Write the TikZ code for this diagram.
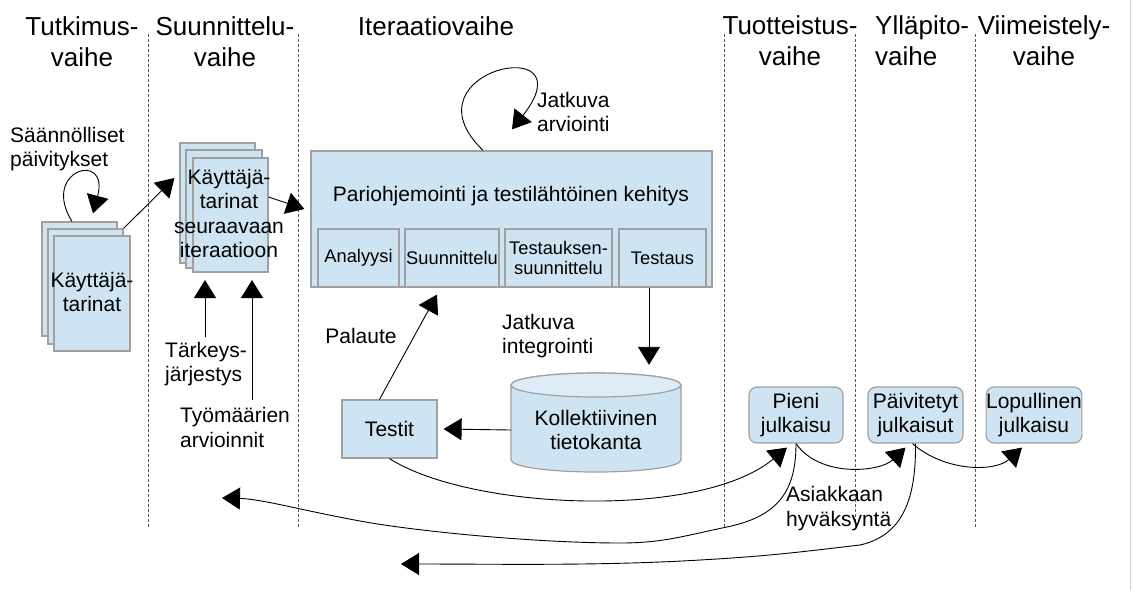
\documentclass[tikz,border=0pt]{standalone}
\usepackage{fontspec}
\setmainfont{Liberation Sans}
\usetikzlibrary{arrows.meta}
\definecolor{boxblue}{RGB}{207,228,242}
\definecolor{boxtop}{RGB}{222,236,247}
\definecolor{boxedge}{RGB}{160,160,160}
\definecolor{sepgray}{RGB}{85,85,85}

\begin{document}
\begin{tikzpicture}[x=1pt,y=-1pt,
  txt/.style={font=\fontsize{21}{24.5}\selectfont, inner sep=0pt, align=left},
  ctxt/.style={font=\fontsize{21}{24.5}\selectfont, inner sep=0pt, align=center},
  small/.style={font=\fontsize{18.3}{20.5}\selectfont, inner sep=0pt, align=center},
  phase/.style={font=\fontsize{26}{31}\selectfont, inner sep=0pt, align=center},
  sheet/.style={draw=boxedge, fill=boxblue, line width=1.2pt, inner sep=0pt},
  release/.style={sheet, rounded corners=8pt, font=\fontsize{21}{24.5}\selectfont, align=center},
  sep/.style={draw=sepgray, line width=0.9pt, dash pattern=on 3pt off 2pt},
  conn/.style={line width=0.9pt, -{Triangle[length=18pt,width=22pt]}},
]
\useasboundingbox (0,0) rectangle (1134,590);
\fill[white] (0,0) rectangle (1134,590);
\draw[gray!35, line width=1pt] (1130,0) -- (1130,590);

% phase separators
\foreach \x in {148,298,724,855,975}
  \draw[sep] (\x,34) -- (\x,527);

% phase headings
\node[phase] (ph1) at (82,41.5) {Tutkimus-\\vaihe};
\node[phase] (ph2) at (225,41.5) {Suunnittelu-\\vaihe};
\node[phase] (ph3) at (436,26.5) {Iteraatiovaihe};
\node[phase] (ph4) at (790,40.5) {Tuotteistus-\\vaihe};
\node[phase, anchor=west, align=left] (ph5) at (875,40.5) {Ylläpito-\\vaihe};
\node[phase] (ph6) at (1044,40.5) {Viimeistely-\\vaihe};

% user stories (research phase)
\node[sheet, minimum width=75pt, minimum height=114pt] (ka1) at (79.5,279) {};
\node[sheet, minimum width=75pt, minimum height=115pt] (ka2) at (85.5,286.5) {};
\node[sheet, minimum width=76pt, minimum height=115pt] (ka3) at (92,293.5) {};
\node[ctxt] (kaT) at (92,292) {Käyttäjä-\\tarinat};
\node[txt, anchor=west] (paiv1) at (10,149) {Säännölliset\\päivitykset};

% user stories for the next iteration
\node[sheet, minimum width=75pt, minimum height=120pt] (ks1) at (217.5,203) {};
\node[sheet, minimum width=76pt, minimum height=118pt] (ks2) at (224,209) {};
\node[sheet, minimum width=75pt, minimum height=114pt] (ks3) at (230.5,215) {};
\node[ctxt] (ksT) at (229,213.5) {Käyttäjä-\\tarinat\\seuraavaan\\iteraatioon};
\node[txt, anchor=west] (tark) at (165,364) {Tärkeys-\\järjestys};
\node[txt, anchor=west] (tyo) at (180,427.5) {Työmäärien\\arvioinnit};

% iteration: pair programming block
\node[sheet, minimum width=401pt, minimum height=136pt] (dev) at (511.5,219) {};
\node[ctxt] (devT) at (511,196) {Pariohjemointi ja testilähtöinen kehitys};
\node[sheet, small, minimum width=81pt, minimum height=58pt] (an) at (358.5,258) {Analyysi};
\node[sheet, small, minimum width=94pt, minimum height=58pt] (su) at (452,258) {Suunnittelu};
\node[sheet, small, minimum width=107pt, minimum height=58pt] (tsu) at (558.5,258) {Testauksen-\\suunnittelu};
\node[sheet, small, minimum width=87pt, minimum height=58pt] (ts) at (662.5,258) {Testaus};
\node[txt, anchor=west] (jarv) at (537,112) {Jatkuva\\arviointi};

% tests and shared code base
\node[sheet, ctxt, minimum width=95pt, minimum height=58pt] (testit) at (389.5,429) {Testit};
\node[txt] (pal) at (361,336) {Palaute};
\node[txt, anchor=west] (jint) at (502,336) {Jatkuva\\integrointi};
\node[inner sep=0pt, minimum width=170pt, minimum height=99pt] (db) at (596,422.5) {};
\path[draw=boxedge, fill=boxblue, line width=1.2pt]
  (511,385) -- (511,460) arc[start angle=180, end angle=360, x radius=85pt, y radius=12pt]
  -- (681,385) arc[start angle=0, end angle=180, x radius=85pt, y radius=12pt] -- cycle;
\path[draw=boxedge, fill=boxtop, line width=1.2pt] (596,385) ellipse [x radius=85pt, y radius=12pt];
\node[ctxt] (dbT) at (596,430) {Kollektiivinen\\tietokanta};

% releases
\node[release, minimum width=94pt, minimum height=56pt] (pieni) at (796,415) {Pieni\\julkaisu};
\node[release, minimum width=95pt, minimum height=56pt] (paiv) at (915.5,415) {Päivitetyt\\julkaisut};
\node[release, minimum width=94pt, minimum height=56pt] (lop) at (1034,415) {Lopullinen\\julkaisu};
\node[txt, anchor=west] (asi) at (786,508.5) {Asiakkaan\\hyväksyntä};

% free ends of the feedback arrows
\coordinate (tarkA) at (205,337);
\coordinate (tarkB) at (205,280);
\coordinate (tyoA) at (252,400);
\coordinate (tyoB) at (252,280);
\coordinate (ret1) at (222,498);
\coordinate (ret2) at (401,564);

% connectors
\draw[conn] ([xshift=-7.5pt]ka1.north) .. controls (40,170) and (110,150) .. ([xshift=13.5pt,yshift=8pt]ka1.north);
\draw[conn] (ka2.north east) -- ([xshift=-5pt,yshift=25pt]ks1.west);
\draw[conn] ([yshift=18pt]ks3.east) -- ([xshift=-6pt,yshift=10pt]dev.west);
\draw[conn] (tarkA) -- (tarkB);
\draw[conn] (tyoA) -- (tyoB);
\draw[conn] ([xshift=-28.5pt]dev.north) .. controls (400,70) and (590,30) .. ([xshift=0.5pt,yshift=21pt]dev.north);
\draw[conn] ([xshift=-10pt]testit.north) -- ([xshift=-15pt,yshift=-7pt]su.south);
\draw[conn] ([xshift=-13.5pt]ts.south) -- ([xshift=53pt,yshift=8pt]db.north);
\draw[conn] ([yshift=-7.5pt]db.west) -- ([xshift=6pt]testit.east);
\draw[conn] (testit.south) .. controls (470,510) and (700,520) .. ([xshift=-9pt,yshift=-4pt]pieni.south);
\draw[conn] (pieni.south) .. controls (820,478) and (880,472) .. ([xshift=-10pt,yshift=-4pt]paiv.south);
\draw[conn] ([xshift=-3pt]paiv.south) .. controls (945,472) and (995,472) .. ([xshift=-12pt,yshift=-4pt]lop.south);
\draw[conn] (pieni.south) .. controls (796,495) and (775,518) .. (722,528)
  .. controls (680,537) and (660,543) .. (620,543)
  .. controls (540,543) and (420,532) .. (360,521)
  .. controls (300,510) and (262,499) .. (ret1);
\draw[conn] (paiv.south) .. controls (916,495) and (905,535) .. (860,545)
  .. controls (800,552) and (770,556) .. (700,560)
  .. controls (600,566) and (500,564) .. (ret2);
\end{tikzpicture}
\end{document}
